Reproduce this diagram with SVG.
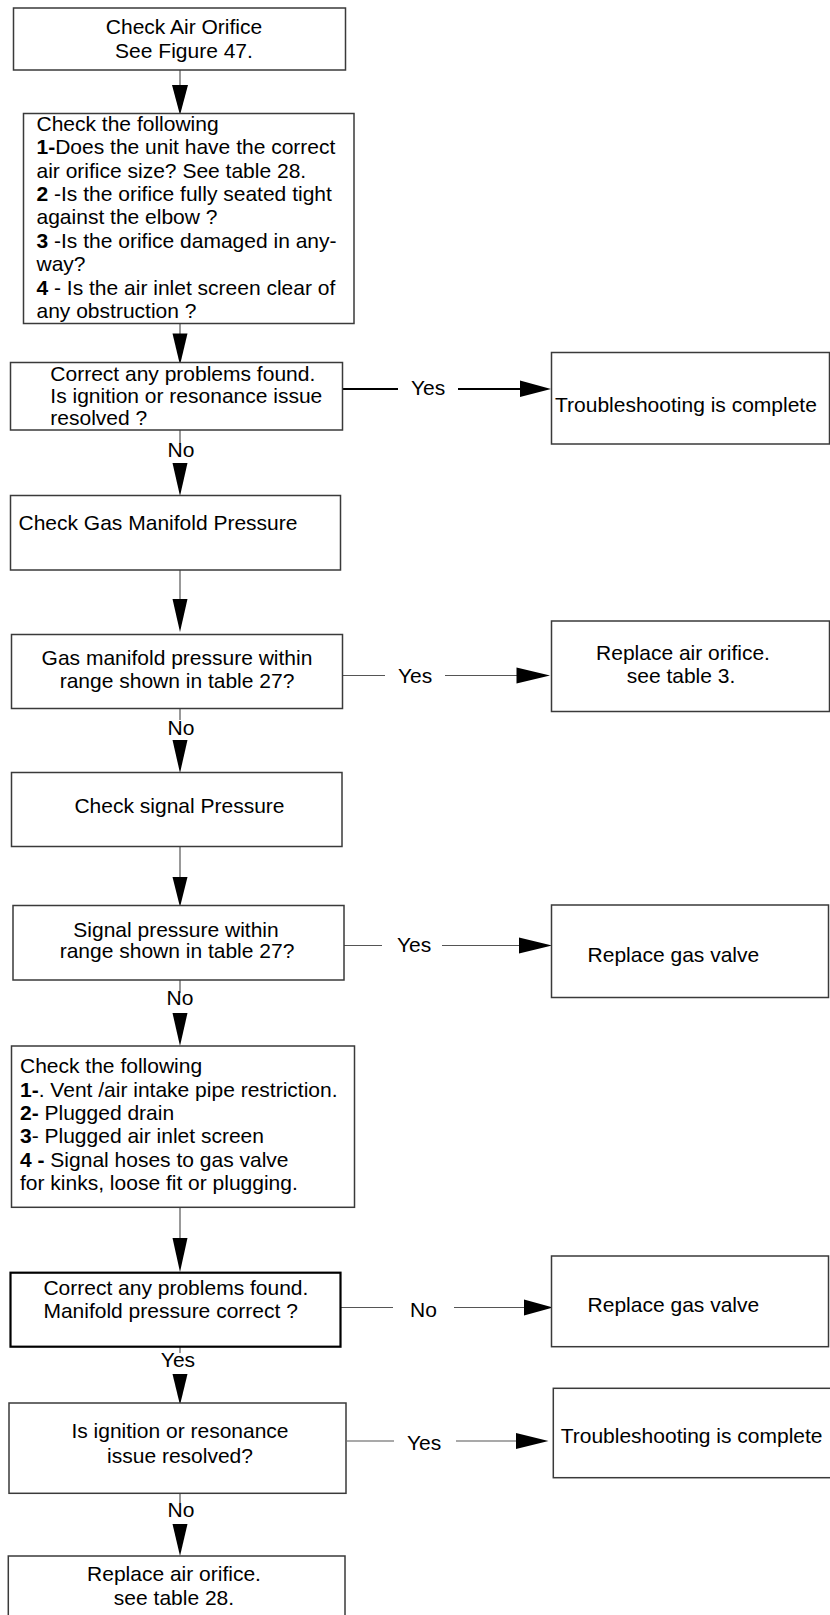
<svg xmlns="http://www.w3.org/2000/svg" width="830" height="1615" viewBox="0 0 830 1615">
<style>
rect.box{fill:#fff;stroke:#3a3a3a;stroke-width:1.5}
rect.heavy{stroke:#000;stroke-width:2.2}
text{font-family:"Liberation Sans",Arial,sans-serif;font-size:21px;fill:#000}
.c{text-anchor:middle}
.b{font-weight:bold}
line.ln{stroke:#555;stroke-width:1.2}
line.thick{stroke:#000;stroke-width:2.2}
polygon.ah{fill:#000}
</style>
<rect width="830" height="1615" fill="#fff"/>

<g id="connectors">
  <!-- 1 -> 2 -->
  <line class="ln" x1="180" y1="70" x2="180" y2="86"/>
  <polygon class="ah" points="172,85 188,85 180,115"/>
  <!-- 2 -> 3 -->
  <line class="ln" x1="180" y1="324" x2="180" y2="334"/>
  <polygon class="ah" points="172.5,333.5 187.5,333.5 180,365"/>
  <!-- 3 -> No -> 5 -->
  <line class="ln" x1="180" y1="430" x2="180" y2="444"/>
  <text class="c" x="181" y="456.5">No</text>
  <polygon class="ah" points="172.5,463 187.5,463 180,496"/>
  <!-- 3 -> Yes -> Troubleshooting -->
  <line class="thick" x1="342.5" y1="389" x2="398" y2="389"/>
  <text x="411" y="395">Yes</text>
  <line class="thick" x1="458" y1="389" x2="521" y2="389"/>
  <polygon class="ah" points="520,380.5 520,397 551,389"/>
  <!-- 5 -> 6 -->
  <line class="ln" x1="180" y1="570" x2="180" y2="600"/>
  <polygon class="ah" points="172.5,599 187.5,599 180,632"/>
  <!-- 6 -> Yes -> Replace air orifice -->
  <line class="ln" x1="343" y1="675.5" x2="385" y2="675.5"/>
  <text x="398" y="683.3">Yes</text>
  <line class="ln" x1="445" y1="675.5" x2="518" y2="675.5"/>
  <polygon class="ah" points="516.5,667.5 516.5,683.5 550,675.5"/>
  <!-- 6 -> No -> 8 -->
  <line class="ln" x1="180" y1="709" x2="180" y2="720"/>
  <text class="c" x="181" y="735">No</text>
  <polygon class="ah" points="172.5,740 187.5,740 180,773"/>
  <!-- 8 -> 9 -->
  <line class="ln" x1="180" y1="847" x2="180" y2="878"/>
  <polygon class="ah" points="172.5,877 187.5,877 180,907"/>
  <!-- 9 -> Yes -> Replace gas valve -->
  <line class="ln" x1="344" y1="945.5" x2="382" y2="945.5"/>
  <text x="397" y="951.7">Yes</text>
  <line class="ln" x1="442" y1="945.5" x2="520" y2="945.5"/>
  <polygon class="ah" points="519,937.5 519,953.5 552,945.5"/>
  <!-- 9 -> No -> 11 -->
  <line class="ln" x1="180" y1="980" x2="180" y2="993"/>
  <text class="c" x="180" y="1005">No</text>
  <polygon class="ah" points="172.5,1013 187.5,1013 180,1046"/>
  <!-- 11 -> 12 -->
  <line class="ln" x1="180" y1="1207" x2="180" y2="1239"/>
  <polygon class="ah" points="172.5,1238 187.5,1238 180,1272"/>
  <!-- 12 -> No -> Replace gas valve -->
  <line class="ln" x1="341" y1="1307.5" x2="393" y2="1307.5"/>
  <text x="410" y="1316.7">No</text>
  <line class="ln" x1="454" y1="1307.5" x2="525" y2="1307.5"/>
  <polygon class="ah" points="524,1299.5 524,1315.5 553,1307.5"/>
  <!-- 12 -> Yes -> 14 -->
  <line class="ln" x1="180" y1="1347" x2="180" y2="1353"/>
  <text class="c" x="178" y="1367">Yes</text>
  <polygon class="ah" points="172.5,1374 187.5,1374 180,1405"/>
  <!-- 14 -> Yes -> Troubleshooting -->
  <line class="ln" x1="347" y1="1441" x2="394" y2="1441"/>
  <text x="407" y="1450">Yes</text>
  <line class="ln" x1="456" y1="1441" x2="517" y2="1441"/>
  <polygon class="ah" points="516,1433 516,1449 548.5,1441"/>
  <!-- 14 -> No -> 16 -->
  <line class="ln" x1="180" y1="1493" x2="180" y2="1503"/>
  <text class="c" x="181" y="1516.7">No</text>
  <polygon class="ah" points="172.5,1524 187.5,1524 180,1556"/>
</g>

<g id="n1">
  <rect class="box" x="13.5" y="8" width="332" height="62"/>
  <text class="c" x="184" y="34">Check Air Orifice</text>
  <text class="c" x="184" y="58">See Figure 47.</text>
</g>

<g id="n2">
  <rect class="box" x="23.5" y="113.5" width="330.5" height="210"/>
  <text x="36.5" y="130.7">Check the following</text>
  <text x="36.5" y="154.1"><tspan class="b">1-</tspan>Does the unit have the correct</text>
  <text x="36.5" y="177.5">air orifice size? See table 28.</text>
  <text x="36.5" y="201"><tspan class="b">2</tspan> -Is the orifice fully seated tight</text>
  <text x="36.5" y="224.4">against the elbow ?</text>
  <text x="36.5" y="247.8"><tspan class="b">3</tspan> -Is the orifice damaged in any-</text>
  <text x="36.5" y="271.2">way?</text>
  <text x="36.5" y="294.7"><tspan class="b">4</tspan> - Is the air inlet screen clear of</text>
  <text x="36.5" y="318.1">any obstruction ?</text>
</g>

<g id="n3">
  <rect class="box" x="10.5" y="362.5" width="332" height="67.5"/>
  <text x="50.3" y="380.5">Correct any problems found.</text>
  <text x="50.3" y="402.5">Is ignition or resonance issue</text>
  <text x="50.3" y="424.5">resolved ?</text>
</g>

<g id="n4">
  <rect class="box" x="551.5" y="352.5" width="278" height="91.5"/>
  <text x="555" y="411.7">Troubleshooting is complete</text>
</g>

<g id="n5">
  <rect class="box" x="10.5" y="495.5" width="330" height="74.5"/>
  <text x="18.5" y="530">Check Gas Manifold Pressure</text>
</g>

<g id="n6">
  <rect class="box" x="11.5" y="634.5" width="331" height="74"/>
  <text class="c" x="177" y="665">Gas manifold pressure within</text>
  <text class="c" x="177" y="688.3">range shown in table 27?</text>
</g>

<g id="n7">
  <rect class="box" x="551.5" y="621" width="278" height="90.5"/>
  <text class="c" x="683" y="660">Replace air orifice.</text>
  <text class="c" x="681" y="682.5">see table 3.</text>
</g>

<g id="n8">
  <rect class="box" x="11.5" y="772.5" width="330.5" height="74"/>
  <text class="c" x="179.5" y="813.3">Check signal Pressure</text>
</g>

<g id="n9">
  <rect class="box" x="13" y="905.5" width="331" height="74.5"/>
  <text class="c" x="176" y="936.7">Signal pressure within</text>
  <text class="c" x="177" y="958.3">range shown in table 27?</text>
</g>

<g id="n10">
  <rect class="box" x="551.5" y="905" width="277" height="92.5"/>
  <text x="587.6" y="961.7">Replace gas valve</text>
</g>

<g id="n11">
  <rect class="box" x="11.5" y="1046" width="343" height="161.3"/>
  <text x="20" y="1073.3">Check the following</text>
  <text x="20" y="1096.7"><tspan class="b">1-</tspan>. Vent /air intake pipe restriction.</text>
  <text x="20" y="1120"><tspan class="b">2-</tspan> Plugged drain</text>
  <text x="20" y="1143.3"><tspan class="b">3</tspan>- Plugged air inlet screen</text>
  <text x="20" y="1166.7"><tspan class="b">4 -</tspan> Signal hoses to gas valve</text>
  <text x="20" y="1190">for kinks, loose fit or plugging.</text>
</g>

<g id="n12">
  <rect class="box heavy" x="10.5" y="1272.7" width="330" height="74"/>
  <text x="43.4" y="1295">Correct any problems found.</text>
  <text x="43.4" y="1318.3">Manifold pressure correct ?</text>
</g>

<g id="n13">
  <rect class="box" x="551.5" y="1256" width="277" height="90.7"/>
  <text x="587.6" y="1311.7">Replace gas valve</text>
</g>

<g id="n14">
  <rect class="box" x="9" y="1403" width="337" height="90.3"/>
  <text class="c" x="180" y="1438.3">Is ignition or resonance</text>
  <text class="c" x="180" y="1462.5">issue resolved?</text>
</g>

<g id="n15">
  <rect class="box" x="553.3" y="1388.3" width="280" height="89.4"/>
  <text x="560.7" y="1442.7">Troubleshooting is complete</text>
</g>

<g id="n16">
  <rect class="box" x="8.3" y="1556" width="336.7" height="66"/>
  <text class="c" x="174" y="1581">Replace air orifice.</text>
  <text class="c" x="174" y="1605">see table 28.</text>
</g>
</svg>
